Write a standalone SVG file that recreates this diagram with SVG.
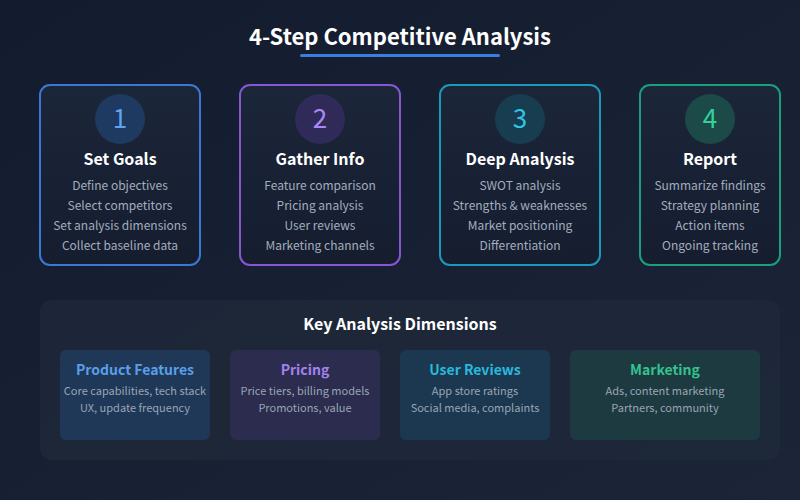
<svg xmlns="http://www.w3.org/2000/svg" width="800" height="500" viewBox="0 0 800 500">
<defs>
<linearGradient id="bg" x1="0" y1="0" x2="1" y2="1">
<stop offset="0" stop-color="#131b2e"/>
<stop offset="1" stop-color="#1c2537"/>
</linearGradient>
<linearGradient id="card" x1="0" y1="0" x2="0" y2="1">
<stop offset="0" stop-color="#1c2639"/>
<stop offset="1" stop-color="#151d2f"/>
</linearGradient>
<style>
text{font-family:"Noto Sans CJK SC","Source Sans Pro","Noto Sans",sans-serif;text-anchor:middle}
.title{font-size:22px;font-weight:700;fill:#ffffff}
.num{font-size:26px;font-weight:400}
.head{font-size:16px;font-weight:700;fill:#ffffff}
.item{font-size:12px;fill:#a3adbd}
.card{fill:url(#card);stroke-width:2}
.sec{font-size:16px;font-weight:700;fill:#ffffff}
.dt{font-size:14px;font-weight:700}
.dl{font-size:11px;fill:#9aa5b5}
</style>
</defs>
<rect width="800" height="500" fill="url(#bg)"/>
<text class="title" x="400" y="45">4-Step Competitive Analysis</text>
<rect x="300" y="54" width="200" height="3" rx="1.5" fill="#3b7de0"/>

<g id="step1">
<rect class="card" x="40" y="85" width="160" height="180" rx="10" stroke="#3b78d4"/>
<circle cx="120" cy="119" r="25" fill="#1f3a60"/>
<text class="num" x="120" y="128" fill="#5fa3f2">1</text>
<text class="head" x="120" y="165">Set Goals</text>
<text class="item" x="120" y="190">Define objectives</text>
<text class="item" x="120" y="210">Select competitors</text>
<text class="item" x="120" y="230">Set analysis dimensions</text>
<text class="item" x="120" y="250">Collect baseline data</text>
</g>
<g id="step2">
<rect class="card" x="240" y="85" width="160" height="180" rx="10" stroke="#8656d4"/>
<circle cx="320" cy="119" r="25" fill="#302a58"/>
<text class="num" x="320" y="128" fill="#a98af5">2</text>
<text class="head" x="320" y="165">Gather Info</text>
<text class="item" x="320" y="190">Feature comparison</text>
<text class="item" x="320" y="210">Pricing analysis</text>
<text class="item" x="320" y="230">User reviews</text>
<text class="item" x="320" y="250">Marketing channels</text>
</g>
<g id="step3">
<rect class="card" x="440" y="85" width="160" height="180" rx="10" stroke="#1a9ab8"/>
<circle cx="520" cy="119" r="25" fill="#193d50"/>
<text class="num" x="520" y="128" fill="#2ec6e4">3</text>
<text class="head" x="520" y="165">Deep Analysis</text>
<text class="item" x="520" y="190">SWOT analysis</text>
<text class="item" x="520" y="210">Strengths &amp; weaknesses</text>
<text class="item" x="520" y="230">Market positioning</text>
<text class="item" x="520" y="250">Differentiation</text>
</g>
<g id="step4">
<rect class="card" x="640" y="85" width="140" height="180" rx="10" stroke="#18a07c"/>
<circle cx="710" cy="119" r="25" fill="#1b4a48"/>
<text class="num" x="710" y="128" fill="#36d09a">4</text>
<text class="head" x="710" y="165">Report</text>
<text class="item" x="710" y="190">Summarize findings</text>
<text class="item" x="710" y="210">Strategy planning</text>
<text class="item" x="710" y="230">Action items</text>
<text class="item" x="710" y="250">Ongoing tracking</text>
</g>

<g id="dimensions">
<rect x="40" y="300" width="740" height="160" rx="12" fill="#1f293b" fill-opacity="0.75"/>
<text class="sec" x="400" y="330">Key Analysis Dimensions</text>
</g>
<g id="dim1">
<rect x="60" y="350" width="150" height="90" rx="6" fill="#1f3858"/>
<text class="dt" x="135" y="375" fill="#5a9ee8">Product Features</text>
<text class="dl" x="135" y="395">Core capabilities, tech stack</text>
<text class="dl" x="135" y="412">UX, update frequency</text>
</g>
<g id="dim2">
<rect x="230" y="350" width="150" height="90" rx="6" fill="#2b2c4e"/>
<text class="dt" x="305" y="375" fill="#a382ee">Pricing</text>
<text class="dl" x="305" y="395">Price tiers, billing models</text>
<text class="dl" x="305" y="412">Promotions, value</text>
</g>
<g id="dim3">
<rect x="400" y="350" width="150" height="90" rx="6" fill="#1b3850"/>
<text class="dt" x="475" y="375" fill="#2ab8dc">User Reviews</text>
<text class="dl" x="475" y="395">App store ratings</text>
<text class="dl" x="475" y="412">Social media, complaints</text>
</g>
<g id="dim4">
<rect x="570" y="350" width="190" height="90" rx="6" fill="#1c3a40"/>
<text class="dt" x="665" y="375" fill="#34c28e">Marketing</text>
<text class="dl" x="665" y="395">Ads, content marketing</text>
<text class="dl" x="665" y="412">Partners, community</text>
</g>
<g id="connectors"/>
</svg>
